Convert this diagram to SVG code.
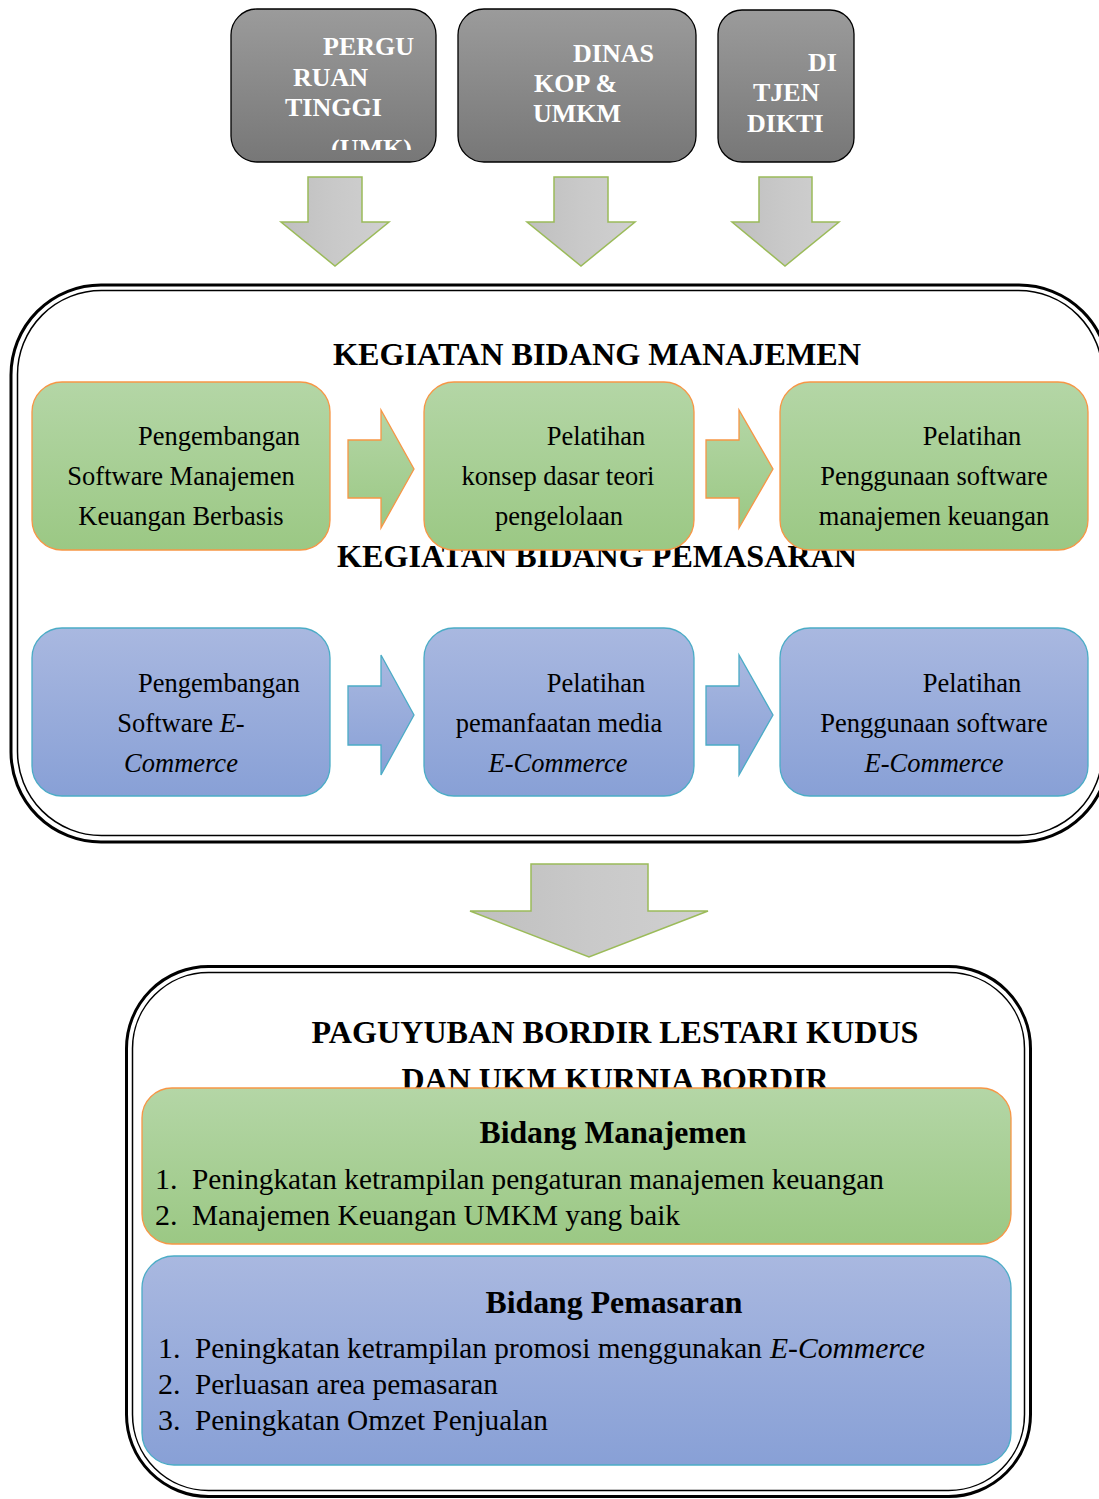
<svg xmlns="http://www.w3.org/2000/svg" width="1099" height="1499" viewBox="0 0 1099 1499">
<style>
  text { font-family: "Liberation Serif", "Times New Roman", serif; fill: #000; }
  .src { fill: url(#gGray); stroke: #000; stroke-width: 1.3; }
  .srct { fill: #fff; font-weight: bold; font-size: 26px; }
  .garrow { fill: url(#gArrow); stroke: #9bbb59; stroke-width: 1.5; }
  .gbox { fill: url(#gGreen); stroke: #f79646; stroke-width: 1.3; }
  .bbox { fill: url(#gBlue); stroke: #4bacc6; stroke-width: 1.3; }
  .grn { fill: url(#gGreen); stroke: #f79646; stroke-width: 1.3; }
  .blu { fill: url(#gBlue); stroke: #4bacc6; stroke-width: 1.3; }
  .frameO { fill: none; stroke: #000; stroke-width: 3; }
  .frameI { fill: none; stroke: #000; stroke-width: 1.5; }
  .title { font-weight: bold; font-size: 32px; text-anchor: middle; }
  .row { font-size: 26.5px; text-anchor: middle; }
  .it { font-style: italic; }
  .head { font-weight: bold; font-size: 32px; text-anchor: middle; }
  .item { font-size: 30px; }
</style>
<defs>
  <linearGradient id="gGray" x1="0" y1="0" x2="0" y2="1">
    <stop offset="0" stop-color="#9b9b9b"/>
    <stop offset="1" stop-color="#777777"/>
  </linearGradient>
  <linearGradient id="gArrow" x1="0" y1="0" x2="1" y2="0">
    <stop offset="0" stop-color="#bfbfbf"/>
    <stop offset="0.5" stop-color="#c9c9c9"/>
    <stop offset="1" stop-color="#d0d0d0"/>
  </linearGradient>
  <linearGradient id="gGreen" x1="0" y1="0" x2="0" y2="1">
    <stop offset="0" stop-color="#b4d6a6"/>
    <stop offset="1" stop-color="#9bc884"/>
  </linearGradient>
  <linearGradient id="gBlue" x1="0" y1="0" x2="0" y2="1">
    <stop offset="0" stop-color="#a9b8e0"/>
    <stop offset="1" stop-color="#88a0d6"/>
  </linearGradient>
  <clipPath id="clipSrc1"><rect x="231" y="9" width="205" height="141"/></clipPath>
</defs>

<!-- Source nodes -->
<g id="node-perguruan-tinggi">
  <rect class="src" x="231" y="9" width="205" height="153" rx="26"/>
  <g clip-path="url(#clipSrc1)">
    <text class="srct" x="323" y="55">PERGU</text>
    <text class="srct" x="293" y="86">RUAN</text>
    <text class="srct" x="285" y="116">TINGGI</text>
    <text class="srct" x="331" y="157">(UMK)</text>
  </g>
</g>
<g id="node-dinas-kop">
  <rect class="src" x="458" y="9" width="238" height="153" rx="26"/>
  <text class="srct" x="573" y="62">DINAS</text>
  <text class="srct" x="534" y="92">KOP &amp;</text>
  <text class="srct" x="533" y="122">UMKM</text>
</g>
<g id="node-ditjen-dikti">
  <rect class="src" x="718" y="10" width="136" height="152" rx="24"/>
  <text class="srct" x="808" y="71">DI</text>
  <text class="srct" x="753" y="101">TJEN</text>
  <text class="srct" x="747" y="132">DIKTI</text>
</g>

<!-- Container: Kegiatan -->
<g id="container-kegiatan">
  <rect class="frameO" x="11" y="285" width="1098" height="557" rx="90"/>
  <rect class="frameI" x="17.5" y="290.5" width="1085" height="545" rx="84"/>
  <text class="title" x="597" y="365" textLength="528" lengthAdjust="spacingAndGlyphs">KEGIATAN BIDANG MANAJEMEN</text>
  <text class="title" x="597" y="567" textLength="520" lengthAdjust="spacingAndGlyphs">KEGIATAN BIDANG PEMASARAN</text>
</g>

<g id="node-m1">
  <rect class="gbox" x="32" y="382" width="298" height="168" rx="30"/>
  <text class="row" x="219" y="445">Pengembangan</text>
  <text class="row" x="181" y="485">Software Manajemen</text>
  <text class="row" x="181" y="525">Keuangan Berbasis</text>
</g>
<g id="node-m2">
  <rect class="gbox" x="424" y="382" width="270" height="168" rx="30"/>
  <text class="row" x="596" y="445">Pelatihan</text>
  <text class="row" x="558" y="485">konsep dasar teori</text>
  <text class="row" x="559" y="525">pengelolaan</text>
</g>
<g id="node-m3">
  <rect class="gbox" x="780" y="382" width="308" height="168" rx="30"/>
  <text class="row" x="972" y="445">Pelatihan</text>
  <text class="row" x="934" y="485">Penggunaan software</text>
  <text class="row" x="934" y="525">manajemen keuangan</text>
</g>

<g id="node-p1">
  <rect class="bbox" x="32" y="628" width="298" height="168" rx="30"/>
  <text class="row" x="219" y="692">Pengembangan</text>
  <text class="row" x="181" y="732">Software <tspan class="it">E-</tspan></text>
  <text class="row it" x="181" y="772">Commerce</text>
</g>
<g id="node-p2">
  <rect class="bbox" x="424" y="628" width="270" height="168" rx="30"/>
  <text class="row" x="596" y="692">Pelatihan</text>
  <text class="row" x="559" y="732">pemanfaatan media</text>
  <text class="row it" x="558" y="772">E-Commerce</text>
</g>
<g id="node-p3">
  <rect class="bbox" x="780" y="628" width="308" height="168" rx="30"/>
  <text class="row" x="972" y="692">Pelatihan</text>
  <text class="row" x="934" y="732">Penggunaan software</text>
  <text class="row it" x="934" y="772">E-Commerce</text>
</g>

<!-- Container: Paguyuban -->
<g id="container-paguyuban">
  <rect class="frameO" x="126.5" y="966.5" width="904" height="530" rx="82"/>
  <rect class="frameI" x="132.5" y="972.5" width="892" height="518" rx="76"/>
  <text class="title" x="615" y="1043" textLength="607" lengthAdjust="spacingAndGlyphs">PAGUYUBAN BORDIR LESTARI KUDUS</text>
  <text class="title" x="615" y="1090" textLength="427" lengthAdjust="spacingAndGlyphs">DAN UKM KURNIA BORDIR</text>
</g>

<g id="node-bidang-manajemen">
  <rect class="grn" x="142" y="1088" width="869" height="156" rx="30"/>
  <text class="head" x="613" y="1143" textLength="267" lengthAdjust="spacingAndGlyphs">Bidang Manajemen</text>
  <text class="item" x="155" y="1189">1.</text>
  <text class="item" x="192" y="1189" textLength="692" lengthAdjust="spacingAndGlyphs">Peningkatan ketrampilan pengaturan manajemen keuangan</text>
  <text class="item" x="155" y="1225">2.</text>
  <text class="item" x="192" y="1225" textLength="488" lengthAdjust="spacingAndGlyphs">Manajemen Keuangan UMKM yang baik</text>
</g>

<g id="node-bidang-pemasaran">
  <rect class="blu" x="142" y="1256" width="869" height="209" rx="32"/>
  <text class="head" x="614" y="1313" textLength="257" lengthAdjust="spacingAndGlyphs">Bidang Pemasaran</text>
  <text class="item" x="158" y="1358">1.</text>
  <text class="item" x="195" y="1358" textLength="567" lengthAdjust="spacingAndGlyphs">Peningkatan ketrampilan promosi menggunakan</text>
  <text class="item it" x="770" y="1358" textLength="155" lengthAdjust="spacingAndGlyphs">E-Commerce</text>
  <text class="item" x="158" y="1394">2.</text>
  <text class="item" x="195" y="1394" textLength="303" lengthAdjust="spacingAndGlyphs">Perluasan area pemasaran</text>
  <text class="item" x="158" y="1430">3.</text>
  <text class="item" x="195" y="1430" textLength="353" lengthAdjust="spacingAndGlyphs">Peningkatan Omzet Penjualan</text>
</g>

<!-- Connectors -->
<g id="connectors">
  <path class="garrow" d="M308,177 H362 V222 H389 L335,266 L281,222 H308 Z"/>
  <path class="garrow" d="M554,177 H608 V222 H635 L581,266 L527,222 H554 Z"/>
  <path class="garrow" d="M759,177 H812 V222 H839 L785,266 L732,222 H759 Z"/>
  <path class="grn" d="M348,440 H381 V410 L414,469 L381,528 V498 H348 Z"/>
  <path class="grn" d="M706,440 H739 V410 L773,469 L739,528 V498 H706 Z"/>
  <path class="blu" d="M348,686 H381 V655 L414,715 L381,775 V745 H348 Z"/>
  <path class="blu" d="M706,686 H739 V655 L773,715 L739,775 V745 H706 Z"/>
  <path class="garrow" d="M531,864 H648 V911 H708 L589,957 L470,911 H531 Z"/>
</g>
</svg>
